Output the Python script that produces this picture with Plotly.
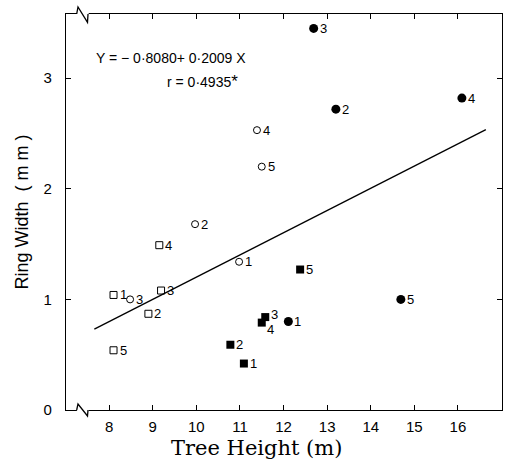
import plotly.graph_objects as go

# Data
fc_x = [12.11, 13.20, 12.69, 16.09, 14.69]   # filled circles
fc_y = [0.80, 2.72, 3.45, 2.82, 1.00]
fc_lab = ["1", "2", "3", "4", "5"]

fs_x = [11.09, 10.78, 11.58, 11.50, 12.38]   # filled squares
fs_y = [0.42, 0.59, 0.84, 0.79, 1.27]
fs_lab = ["1", "2", "3", "4", "5"]

oc_x = [10.98, 9.97, 8.48, 11.39, 11.50]     # open circles
oc_y = [1.34, 1.68, 1.00, 2.53, 2.20]
oc_lab = ["1", "2", "3", "4", "5"]

os_x = [8.10, 8.90, 9.19, 9.15, 8.10]        # open squares
os_y = [1.04, 0.87, 1.08, 1.49, 0.54]
os_lab = ["1", "2", "3", "4", "5"]

intercept = -0.8080
slope = 0.2009
line_x = [7.66, 16.64]
line_y = [intercept + slope * v for v in line_x]

x_ticks = [8, 9, 10, 11, 12, 13, 14, 15, 16]
y_ticks = [0, 1, 2, 3]

BLK = "#000000"
lab_font = dict(family="Liberation Sans", size=13, color=BLK)

fig = go.Figure()
fig.add_trace(go.Scatter(x=line_x, y=line_y, mode="lines",
                         line=dict(color=BLK, width=1.3), hoverinfo="skip"))

fig.add_trace(go.Scatter(x=fc_x, y=fc_y, mode="markers",
                         marker=dict(symbol="circle", size=9, color=BLK)))
fig.add_trace(go.Scatter(x=fs_x, y=fs_y, mode="markers",
                         marker=dict(symbol="square", size=8, color=BLK)))
fig.add_trace(go.Scatter(x=oc_x, y=oc_y, mode="markers",
                         marker=dict(symbol="circle-open", size=7,
                                     color=BLK, line=dict(width=1, color=BLK))))
fig.add_trace(go.Scatter(x=os_x, y=os_y, mode="markers",
                         marker=dict(symbol="square-open", size=7,
                                     color=BLK, line=dict(width=1, color=BLK))))

# point labels (right of each marker); small per-label nudges
def add_labels(xs, ys, labs, yshifts=None, xshifts=None):
    for i, (xv, yv, t) in enumerate(zip(xs, ys, labs)):
        ys_ = 0 if yshifts is None else yshifts[i]
        xs_ = 4 if xshifts is None else xshifts[i]
        fig.add_annotation(x=xv, y=yv, text=t, showarrow=False,
                           xanchor="left", yanchor="middle",
                           xshift=xs_, yshift=ys_, font=lab_font)

add_labels(fc_x, fc_y, fc_lab)
add_labels(fs_x, fs_y, fs_lab, [0, 0, 3, -7, 0], [4, 4, 4, 3, 4])
add_labels(oc_x, oc_y, oc_lab)
add_labels(os_x, os_y, os_lab)

fig.update_layout(
    width=505, height=467,
    margin=dict(l=66, r=3, t=14, b=57),
    paper_bgcolor="white", plot_bgcolor="white",
    showlegend=False,
    font=dict(family="Liberation Sans", color=BLK),
)
fig.update_xaxes(range=[7.01, 17.01], tickvals=x_ticks,
                 ticktext=[str(v) for v in x_ticks],
                 ticks="inside", ticklen=5, tickwidth=1, tickcolor=BLK,
                 ticklabelstandoff=3,
                 showline=True, linecolor=BLK, linewidth=1.3, mirror="ticks",
                 showgrid=False, zeroline=False,
                 tickfont=dict(family="Liberation Sans", size=15, color=BLK))
fig.update_yaxes(range=[0, 3.58], tickvals=y_ticks,
                 ticktext=[str(v) for v in y_ticks],
                 ticks="inside", ticklen=5, tickwidth=1, tickcolor=BLK,
                 ticklabelstandoff=10,
                 showline=True, linecolor=BLK, linewidth=1.3, mirror="ticks",
                 showgrid=False, zeroline=False,
                 tickfont=dict(family="Liberation Sans", size=15, color=BLK),
                 title=dict(text="Ring Width  ( m m )",
                            font=dict(family="Liberation Sans", size=18, color=BLK),
                            standoff=10))

# x-axis title (placed slightly left of centre, as in the original)
fig.add_annotation(x=0.438, y=0, xref="paper", yref="paper",
                   text="Tree Height (m)", showarrow=False,
                   xanchor="center", yanchor="middle", yshift=-38,
                   font=dict(family="DejaVu Serif", size=21, color=BLK))

# axis break marks (decoration)
def brk(y0, up, down):
    return [
        dict(type="rect", xref="paper", yref="paper", x0=0.025, x1=0.052,
             y0=y0 - 0.012, y1=y0 + 0.012, fillcolor="white",
             line=dict(width=0), layer="above"),
        dict(type="path", xref="paper", yref="paper",
             path=f"M 0.0245 {y0} L 0.0275 {up} L 0.0493 {down} L 0.0505 {y0}",
             line=dict(color=BLK, width=1.3), layer="above"),
    ]

fig.update_layout(shapes=brk(0, 0.0152, -0.0152) + brk(1, 1.0177, 0.979))

fig.add_annotation(x=0.065, y=0.89, xref="paper", yref="paper",
                   text="Y = − 0·8080+ 0·2009 X", showarrow=False,
                   xanchor="left", yanchor="middle",
                   font=dict(family="Liberation Sans", size=14, color=BLK))
fig.add_annotation(x=0.228, y=0.83, xref="paper", yref="paper",
                   text="r = 0·4935<span style='font-size:17px'>*</span>",
                   showarrow=False,
                   xanchor="left", yanchor="middle",
                   font=dict(family="Liberation Sans", size=14, color=BLK))

fig.write_html("out.html")
